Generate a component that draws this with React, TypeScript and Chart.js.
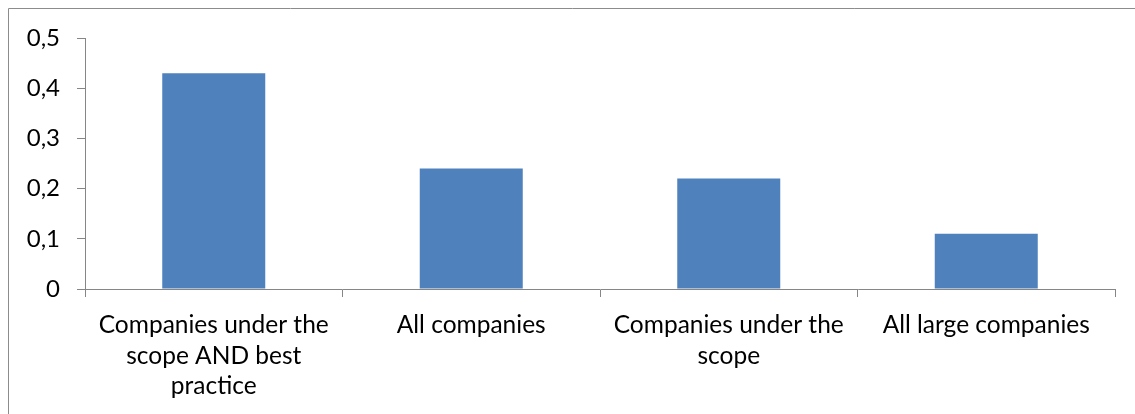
import React, { useEffect, useRef } from "react";
import { Chart, registerables } from "chart.js";

Chart.register(...registerables);

const categories: string[][] = [
  ["Companies under the", "scope AND best", "practice"],
  ["All companies"],
  ["Companies under the", "scope"],
  ["All large companies"],
];
const values: number[] = [0.43, 0.24, 0.22, 0.11];
const yTicks: number[] = [0, 0.1, 0.2, 0.3, 0.4, 0.5];

const FONT = "Lato, 'Open Sans', sans-serif";
const AXIS = "#868686";

const borderPlugin = {
  id: "outerBorder",
  afterDraw(chart: any) {
    const ctx = chart.ctx;
    ctx.save();
    ctx.strokeStyle = "#8c8c8c";
    ctx.lineWidth = 1;
    ctx.beginPath();
    ctx.moveTo(8.5, chart.height + 5);
    ctx.lineTo(8.5, 8.5);
    ctx.lineTo(chart.width + 5, 8.5);
    ctx.stroke();
    ctx.restore();
  },
};

export default function App() {
  const ref = useRef<HTMLCanvasElement | null>(null);
  useEffect(() => {
    document.body.style.margin = "0";
    const chart = new Chart(ref.current!, {
      type: "bar",
      data: {
        labels: categories,
        datasets: [
          {
            data: values,
            backgroundColor: "#4F81BD",
            borderWidth: 0,
            barPercentage: 0.4,
            categoryPercentage: 1,
          },
        ],
      },
      options: {
        animation: false,
        responsive: false,
        maintainAspectRatio: false,
        layout: { padding: { left: 0, top: 38, right: 20, bottom: 0 } },
        plugins: { legend: { display: false }, tooltip: { enabled: false } },
        scales: {
          x: {
            grid: {
              display: true,
              drawOnChartArea: false,
              drawTicks: true,
              tickLength: 8,
              color: AXIS,
              offset: true,
            },
            border: { display: true, color: AXIS, width: 1 },
            ticks: {
              color: "#000",
              font: { family: FONT, size: 24.5, lineHeight: 1.25 },
              padding: 13,
              maxRotation: 0,
              autoSkip: false,
            },
            afterFit(scale: any) {
              scale.height = 125;
            },
          },
          y: {
            min: 0,
            max: 0.5,
            afterBuildTicks(scale: any) {
              scale.ticks = yTicks.map((v) => ({ value: v }));
            },
            grid: {
              display: true,
              drawOnChartArea: false,
              drawTicks: true,
              tickLength: 8,
              color: AXIS,
            },
            border: { display: true, color: AXIS, width: 1 },
            ticks: {
              color: "#000",
              font: { family: FONT, size: 24 },
              padding: 17,
              callback: (v: any) =>
                Number(v) === 0 ? "0" : Number(v).toFixed(1).replace(".", ","),
            },
            afterFit(scale: any) {
              scale.width = 85;
            },
          },
        },
      },
      plugins: [borderPlugin],
    });
    return () => chart.destroy();
  }, []);
  return (
    <div style={{ position: "absolute", left: 0, top: 0, width: 1135, height: 414 }}>
      <canvas ref={ref} width={1135} height={414} style={{ display: "block" }} />
    </div>
  );
}
